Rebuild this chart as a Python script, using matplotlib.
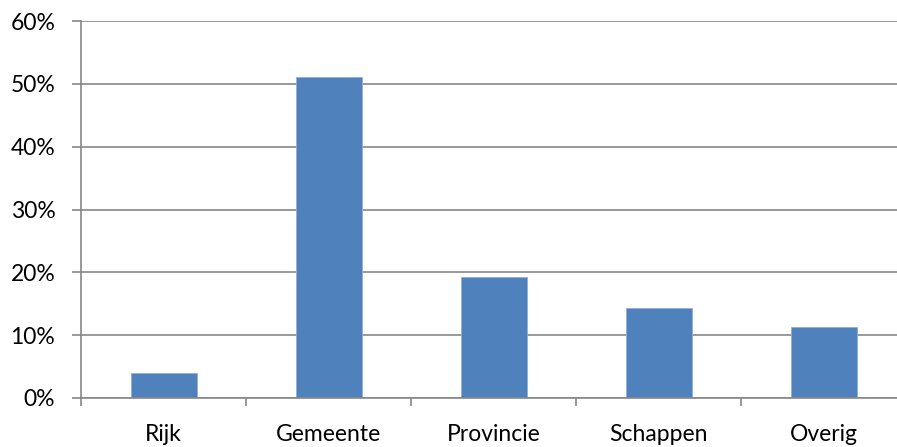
import matplotlib
matplotlib.use("Agg")
import matplotlib.pyplot as plt
from matplotlib.ticker import FixedLocator, PercentFormatter

categories = ["Rijk", "Gemeente", "Provincie", "Schappen", "Overig"]
shares = [3.9, 51.1, 19.3, 14.3, 11.3]
yticks = [0, 10, 20, 30, 40, 50, 60]

plt.rcParams["font.family"] = ["Lato", "DejaVu Sans"]

W, H = 897, 447
fig = plt.figure(figsize=(W / 100, H / 100), dpi=100)
ax = fig.add_axes([81 / W, (H - 398) / H, 825 / W, 377 / H])

grid_col = "#878787"
x = range(len(categories))
ax.bar(x, shares, width=0.4, color="#4F81BD", edgecolor="#8EB0D8", linewidth=0.6, zorder=3)

ax.set_xlim(-0.5, len(categories) - 0.5)
ax.set_ylim(0, 60)
ax.set_yticks(yticks)
ax.yaxis.set_major_formatter(PercentFormatter(decimals=0))
ax.yaxis.grid(True, color=grid_col, linewidth=1.2, zorder=0)

ax.set_xticks(list(x))
ax.set_xticklabels(categories)
ax.xaxis.set_minor_locator(FixedLocator([i - 0.5 for i in range(len(categories) + 1)]))
ax.tick_params(axis="x", which="major", length=0, pad=19, labelsize=16.5, colors="black")
ax.tick_params(axis="x", which="minor", length=6, width=1.2, color=grid_col)
ax.tick_params(axis="y", length=6.5, width=1.2, color=grid_col, pad=12, labelsize=16.5)

for s in ["top", "right"]:
    ax.spines[s].set_visible(False)
for s in ["left", "bottom"]:
    ax.spines[s].set_color(grid_col)
    ax.spines[s].set_linewidth(1.2)
    ax.spines[s].set_zorder(4)

fig.savefig("out.png", dpi=100)
